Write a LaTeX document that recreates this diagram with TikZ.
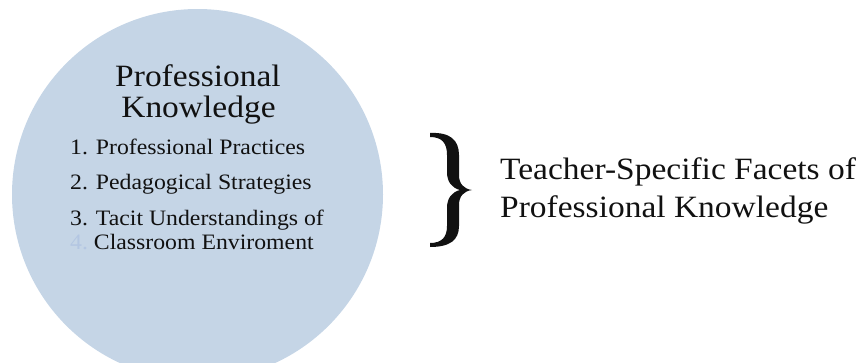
\documentclass[tikz,border=0pt]{standalone}
\usepackage{fontspec}
\setmainfont{Liberation Serif}[FakeStretch=1.08]
\definecolor{circfill}{HTML}{C5D5E6}
\definecolor{faint}{HTML}{B3C6E2}
\definecolor{ink}{HTML}{111111}
\begin{document}
\begin{tikzpicture}[x=1pt,y=-1pt,
  title/.style={anchor=base, inner sep=0pt, text=ink, font=\fontsize{31}{33}\selectfont},
  item/.style={anchor=base west, inner sep=0pt, text=ink, font=\fontsize{22}{24}\selectfont},
  side/.style={anchor=base west, inner sep=0pt, text=ink, font=\fontsize{31}{33}\selectfont}]
\useasboundingbox (0,0) rectangle (860,362);
\begin{scope}
\clip (0,0) rectangle (860,362);
\fill[circfill] (197.5,194.5) circle[radius=185.5];
\end{scope}
\node[title] (t1) at (198,86) {Professional};
\node[title] (t2) at (198.5,117) {Knowledge};
\node[item] (i1) at (70,154) {1. Professional Practices};
\node[item] (i2) at (70,189) {2. Pedagogical Strategies};
\node[item] (i3) at (70,225) {3. Tacit Understandings of};
\node[item] (i4) at (70,249) {\textcolor{faint}{4.}\ Classroom Enviroment};
\fill[ink] (430,133) .. controls (450,132) and (459,140) .. (459,155)
  -- (459,175) .. controls (459,184) and (464,189) .. (472,190)
  .. controls (464,191) and (459,196) .. (459,205)
  -- (459,226) .. controls (459,240) and (450,247) .. (430,247)
  -- (430,243) .. controls (442,243) and (447,237) .. (447,226)
  -- (447,208) .. controls (447,198) and (452,192) .. (460,190)
  .. controls (452,188) and (447,182) .. (447,172)
  -- (447,155) .. controls (447,143) and (442,137) .. (430,137) -- cycle;
\node[side] (s1) at (500,179) {Teacher-Specific Facets of};
\node[side] (s2) at (500,217) {Professional Knowledge};
\end{tikzpicture}
\end{document}
